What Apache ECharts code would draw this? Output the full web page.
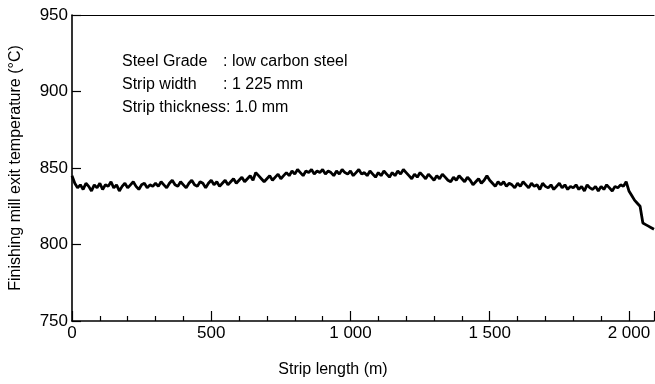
<!DOCTYPE html>
<html>
<head>
<meta charset="utf-8">
<script src="https://cdn.jsdelivr.net/npm/echarts@6/dist/echarts.min.js"></script>
<style>
  html, body { margin: 0; padding: 0; background: #fff; }
  #chart { width: 655px; height: 384px; }
</style>
</head>
<body>
<div id="chart"></div>
<script>
const STEP = 10;
const temps = [
  845, 840, 837, 839, 836, 840, 838, 835, 839, 837,
  840, 836, 839, 838, 841, 837, 839, 835, 838, 840,
  837, 839, 841, 838, 836, 839, 840, 837, 839, 838,
  840, 838, 841, 839, 837, 840, 842, 839, 838, 841,
  839, 837, 840, 842, 839, 838, 841, 840, 837, 840,
  842, 839, 841, 838, 840, 842, 839, 841, 843, 840,
  842, 844, 841, 843, 845, 842, 847, 845, 843, 841,
  843, 845, 842, 844, 846, 843, 845, 847, 845, 848,
  846, 849, 847, 845, 848, 847, 849, 846, 848, 847,
  849, 846, 848, 847, 845, 848, 846, 849, 847, 846,
  848, 845, 847, 849, 846, 847, 845, 848, 846, 844,
  847, 845, 848, 846, 844, 847, 845, 848, 846, 849,
  847, 845, 843, 846, 844, 847, 845, 843, 846, 844,
  842, 845, 843, 846, 844, 842, 841, 844, 842, 845,
  843, 841, 844, 842, 839, 841, 843, 840, 842, 845,
  842, 840, 838, 841, 839, 841, 838, 840, 839, 837,
  840, 838, 841, 839, 837, 840, 838, 839, 836, 840,
  838, 837, 839, 836, 838, 840, 837, 839, 836, 838,
  837, 839, 836, 838, 835, 839, 837, 836, 838, 835,
  838, 836, 839, 837, 835, 838, 837, 839, 838, 841,
  835, 832, 829, 827, 825, 814, 813, 812, 811, 810
];
const lengthMax = 2090;
const tempMin = 750;
const tempMax = 950;
const noteLabels = ["Steel Grade", "Strip width", "Strip thickness:"];
const noteValues = [": low carbon steel", ": 1 225 mm", "1.0 mm"];

const font = "'Liberation Sans', Arial, sans-serif";
const points = temps.map((t, i) => [i * STEP, t]);

const chart = echarts.init(document.getElementById("chart"), null, { renderer: "canvas" });

// text block in the upper left of the plot
const noteText = [];
noteLabels.forEach((label, i) => {
  const y = 62 + i * 23;
  noteText.push({
    type: "text", x: 122, y: y,
    style: { text: label, font: "16px " + font, fill: "#000", verticalAlign: "middle" }
  });
  noteText.push({
    type: "text", x: i === 2 ? 235 : 223, y: y,
    style: { text: noteValues[i], font: "16px " + font, fill: "#000", verticalAlign: "middle" }
  });
});

chart.setOption({
  animation: false,
  backgroundColor: "#fff",
  grid: { left: 72, right: 1, top: 15, bottom: 63, outerBoundsMode: "none", containLabel: false },
  xAxis: [
    {
      type: "value",
      min: 0,
      max: lengthMax,
      interval: 500,
      name: "Strip length (m)",
      nameLocation: "middle",
      nameGap: 41,
      nameTextStyle: { color: "#000", fontSize: 16, fontFamily: font, padding: [0, 60, 0, 0] },
      axisLine: { show: true, lineStyle: { color: "#000", width: 1.6 } },
      axisTick: { show: true, inside: true, length: 10, lineStyle: { color: "#000", width: 1.2 } },
      minorTick: { show: true, splitNumber: 5, length: 5, lineStyle: { color: "#000", width: 1.2 } },
      splitLine: { show: false },
      axisLabel: {
        color: "#000", fontSize: 17, fontFamily: font, margin: 4, showMaxLabel: false,
        formatter: (v) => (v % 500 === 0 ? String(v).replace(/\B(?=(\d{3})+$)/, " ") : "")
      }
    },
    {
      type: "value",
      position: "top",
      min: 0,
      max: lengthMax,
      axisLine: { show: true, lineStyle: { color: "#000", width: 1.2 } },
      axisTick: { show: false },
      axisLabel: { show: false },
      splitLine: { show: false }
    }
  ],
  yAxis: {
    type: "value",
    min: tempMin,
    max: tempMax,
    interval: 50,
    name: "Finishing mill exit temperature (°C)",
    nameLocation: "middle",
    nameGap: 48,
    nameTextStyle: { color: "#000", fontSize: 16, fontFamily: font },
    axisLine: { show: true, lineStyle: { color: "#000", width: 1.6 } },
    axisTick: { show: true, inside: true, length: 9, lineStyle: { color: "#000", width: 1.2 } },
    splitLine: { show: false },
    axisLabel: { color: "#000", fontSize: 17, fontFamily: font, margin: 4 }
  },
  graphic: noteText,
  series: [
    {
      type: "line",
      xAxisIndex: 0,
      data: points,
      symbol: "none",
      lineStyle: { color: "#000", width: 2.8 }
    }
  ]
});
</script>
</body>
</html>
